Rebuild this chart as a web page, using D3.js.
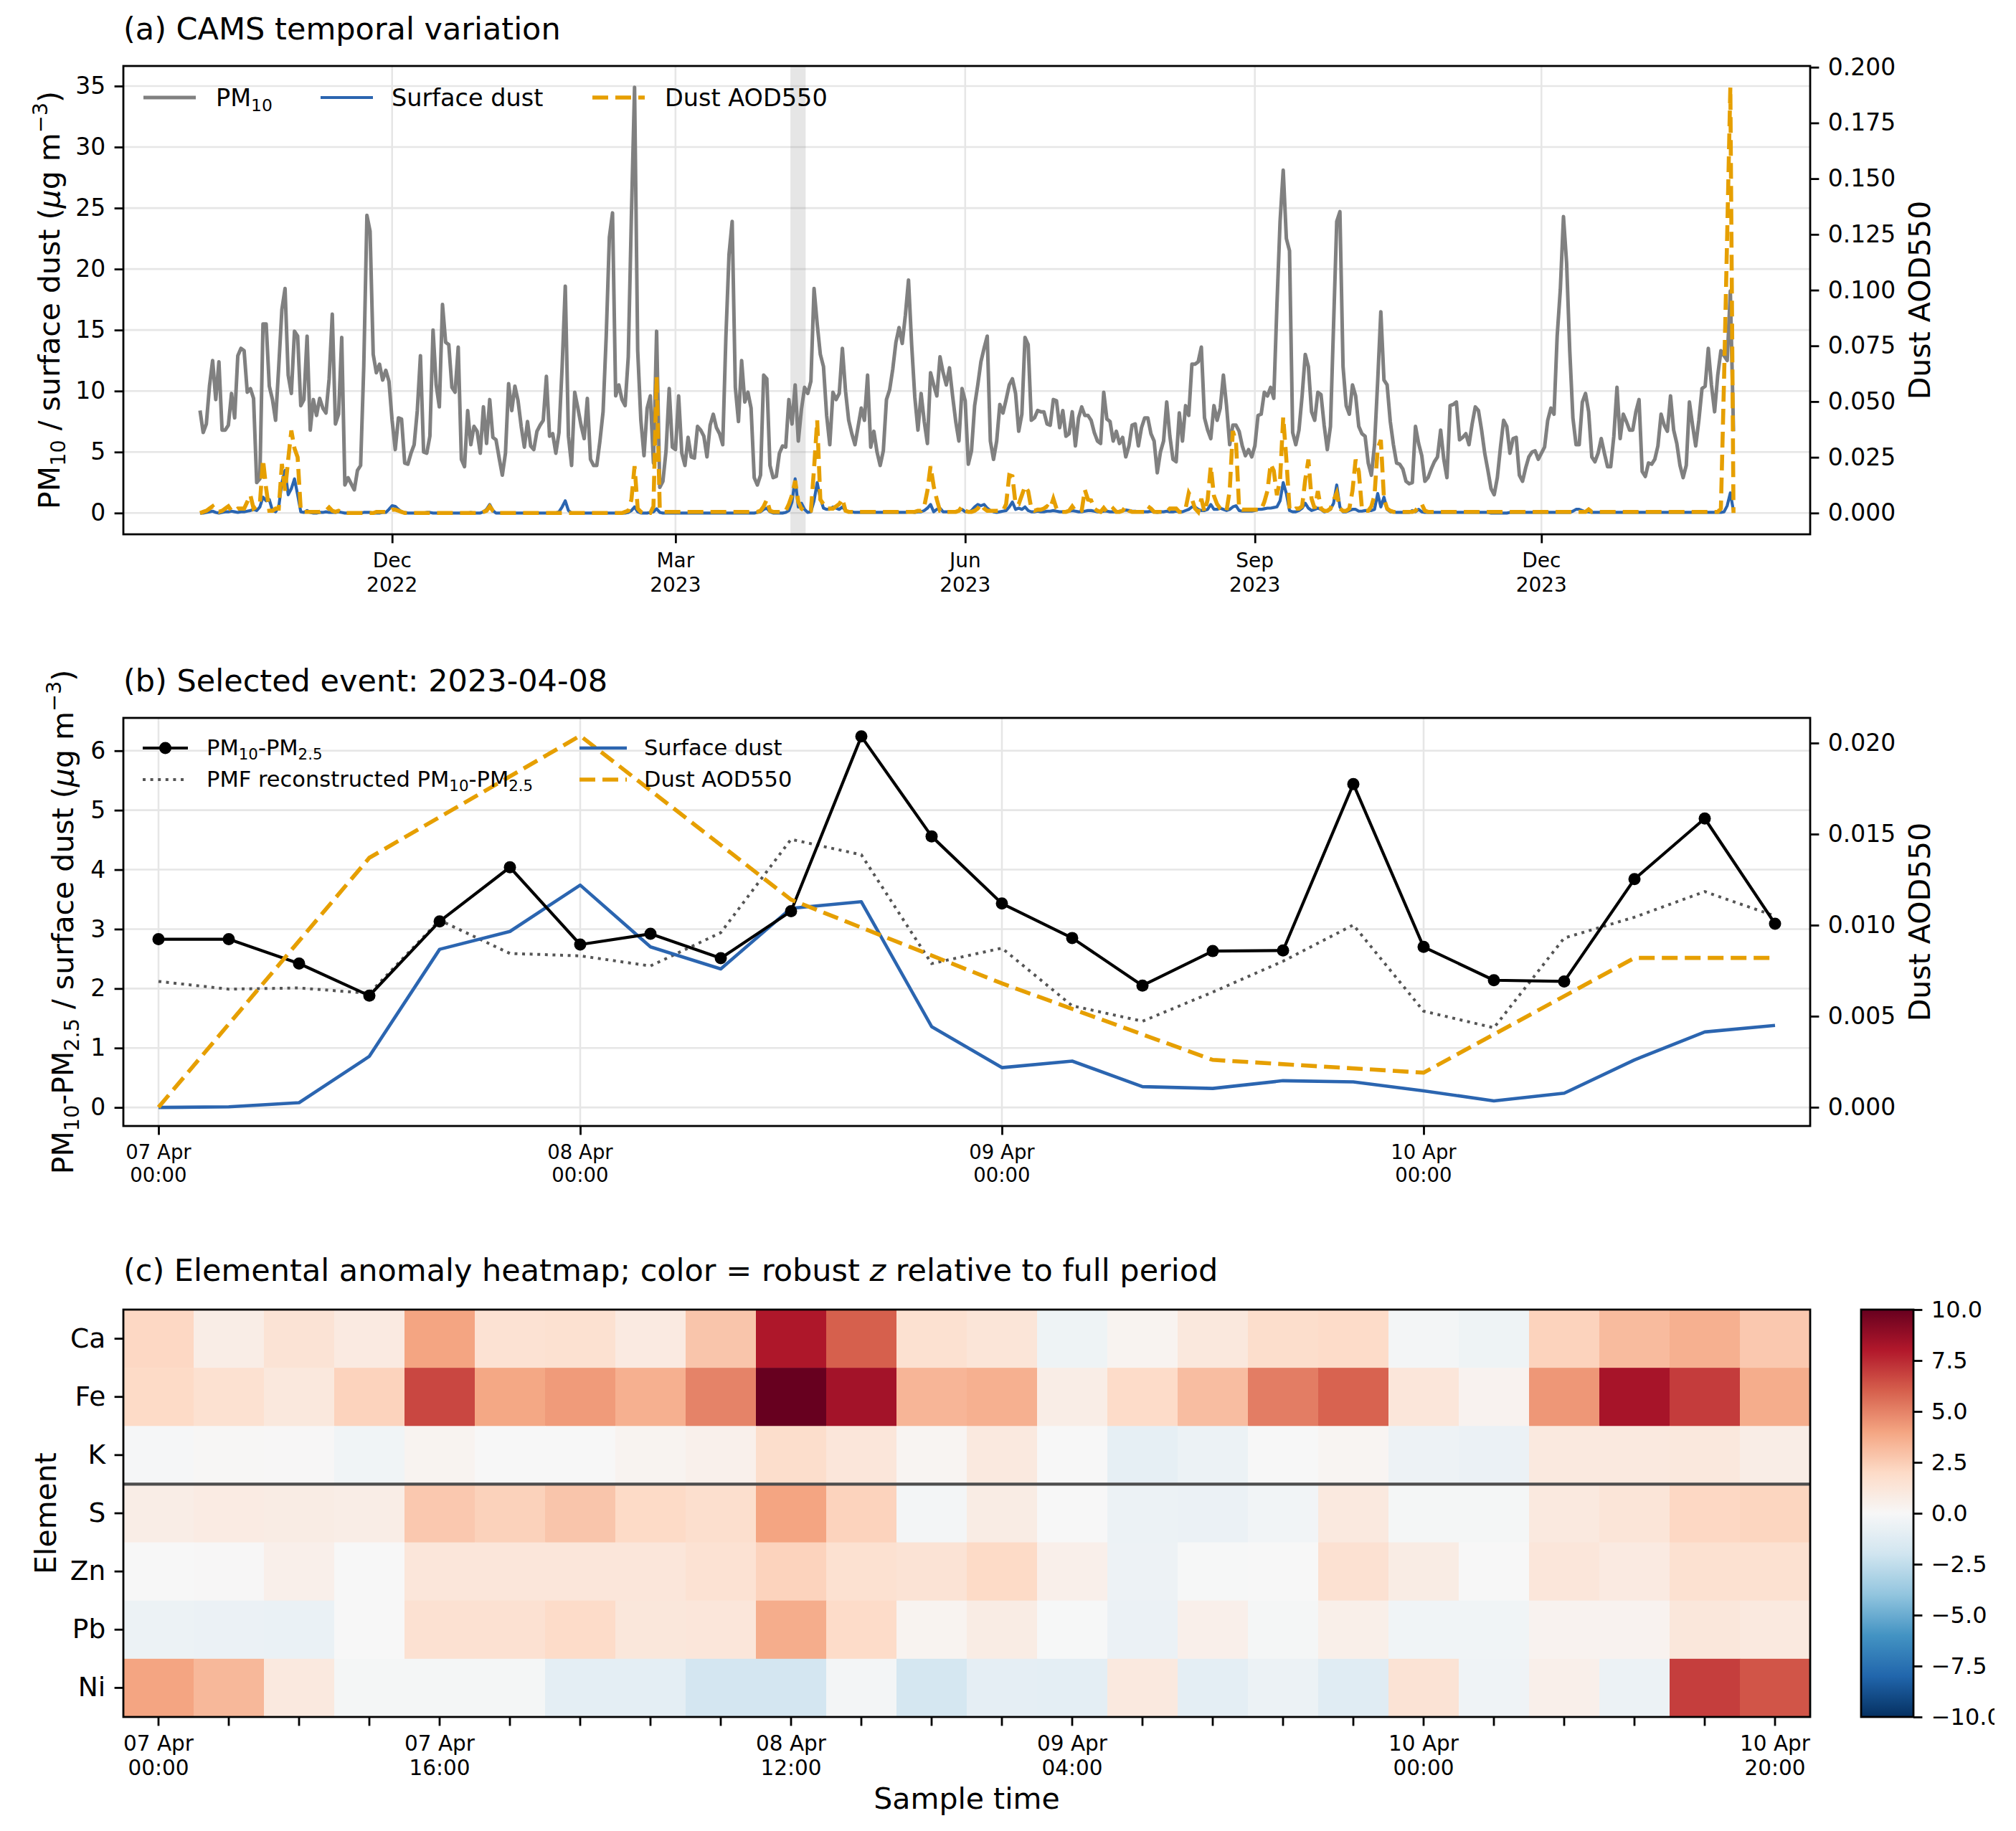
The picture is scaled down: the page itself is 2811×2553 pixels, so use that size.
<!DOCTYPE html>
<html><head><meta charset="utf-8">
<script src="https://cdn.jsdelivr.net/npm/d3@7"></script>
<style>
body{margin:0;background:#fff;}
svg{display:block;}
text{font-family:"DejaVu Sans",sans-serif;white-space:pre;}
</style>
</head><body>
<svg id="chart" width="2811" height="2553"></svg>
<script>
// ---------------- DATA ----------------
// (a) CAMS daily series, starting 2022-10-01
const camsStart = "2022-10-01";
const pm10 = [
8.4,6.6,7.3,10.4,12.5,9.3,12.4,6.8,6.8,7.2,
9.8,7.8,12.9,13.5,13.3,9.9,10.2,9.4,2.5,2.8,
15.5,15.5,10.4,9.3,7.6,12.0,16.7,18.4,11.3,9.8,
14.9,14.5,8.8,9.3,14.5,6.8,9.3,8.0,9.4,8.6,
8.2,11.0,16.3,7.3,8.1,14.4,2.3,2.9,2.4,1.9,
3.5,3.9,12.0,24.4,23.1,13.0,11.5,12.2,10.9,11.7,
10.8,7.6,5.2,7.8,7.7,4.1,4.0,4.9,5.6,8.4,
12.9,5.0,4.9,6.3,15.0,10.5,8.7,17.1,14.0,13.8,
10.3,9.9,13.6,4.4,3.8,8.4,5.6,7.1,6.7,4.9,
8.7,5.7,9.3,6.2,6.0,4.5,3.1,4.9,10.6,8.4,
10.4,9.2,7.1,5.4,7.5,5.5,5.2,6.7,7.2,7.6,
11.2,6.3,6.5,4.9,6.6,12.0,18.6,6.3,3.9,9.9,
8.6,7.2,6.1,9.4,4.4,3.9,3.9,5.9,8.3,14.5,
22.6,24.6,9.6,10.5,9.3,8.8,12.8,24.4,34.9,13.3,
7.6,4.7,8.6,9.6,4.1,14.9,2.1,2.6,5.1,10.2,
5.4,5.2,9.6,4.9,3.9,6.2,4.6,4.5,7.1,6.8,
6.3,4.6,7.2,8.1,7.0,6.5,5.6,14.4,21.2,23.9,
10.3,7.5,12.5,9.1,9.9,8.6,2.9,2.3,3.1,11.3,
11.0,3.9,2.9,3.0,4.9,5.5,5.4,9.3,7.3,10.5,
5.9,8.5,10.3,9.8,10.8,18.4,15.5,13.0,12.0,8.0,
5.6,9.9,9.3,9.8,13.5,10.0,7.6,6.5,5.6,7.1,
8.6,7.6,11.3,5.4,6.7,5.0,3.9,5.1,9.3,10.1,
11.8,14.0,15.2,13.9,16.2,19.1,13.8,9.5,6.8,9.8,
7.5,5.7,11.5,10.5,9.6,12.8,11.5,10.5,11.9,9.6,
7.5,5.9,10.2,9.2,4.0,5.1,8.8,10.5,12.4,13.5,
14.5,5.9,4.4,5.9,8.9,8.2,9.3,10.5,11.0,9.8,
6.7,8.1,14.4,13.8,7.6,7.8,8.4,8.3,8.3,7.3,
7.2,9.3,9.2,7.0,8.4,6.3,6.5,8.3,5.5,7.8,
8.7,8.0,8.0,7.6,6.6,5.9,5.7,9.9,7.7,7.5,
5.9,6.7,5.7,6.2,4.6,5.5,7.2,7.3,5.5,7.0,
7.8,7.8,6.5,5.9,3.3,5.0,5.9,9.1,6.3,4.4,
4.2,8.2,5.9,8.8,8.0,12.2,12.2,12.4,13.6,7.8,
6.8,6.1,8.8,7.6,8.6,11.3,8.8,5.6,7.2,7.2,
6.7,5.5,4.7,5.2,4.6,5.5,8.0,8.1,9.9,9.6,
10.3,9.4,17.0,23.9,28.1,22.5,21.5,6.6,5.6,6.8,
9.6,13.0,12.0,8.3,7.6,9.9,9.7,7.2,5.2,7.1,
15.5,23.9,24.7,12.0,8.8,8.1,10.5,9.6,7.1,6.5,
6.3,4.1,3.1,5.6,10.8,16.5,10.9,10.5,7.5,5.6,
4.1,4.0,3.6,2.6,2.4,2.5,7.1,5.7,4.7,2.6,
2.9,3.6,4.2,4.6,6.8,4.4,2.9,8.8,8.9,9.1,
6.0,6.2,6.5,5.6,7.3,8.7,8.4,6.8,4.9,3.5,
2.0,1.5,2.9,5.4,7.6,7.1,4.9,6.1,6.2,3.1,
2.6,3.7,4.6,5.0,5.1,4.4,4.9,5.4,7.6,8.6,
8.1,14.5,18.3,24.3,20.5,13.3,7.8,5.6,5.6,9.1,
9.8,8.3,4.6,4.2,4.9,6.1,4.9,3.8,3.8,6.3,
10.3,6.1,8.1,7.5,6.8,6.8,8.3,9.3,3.4,3.0,
4.1,4.0,4.4,5.5,8.1,7.2,6.7,9.6,6.8,5.7,
3.9,2.9,3.9,9.1,7.2,5.5,7.6,10.2,10.4,13.5,
10.5,8.3,11.3,13.3,12.9,12.5,18.2,6.7
];
const surfaceDust = [
0,0,0.05,0.1,0.15,0.05,0,0.05,0.1,0.1,
0.15,0.1,0.05,0.1,0.1,0.15,0.2,0.3,0.2,0.5,
1.3,1.0,1.1,0.2,0.1,0.5,2.5,3.5,1.5,2.0,
2.8,1.5,0.1,0.05,0.2,0.05,0,0,0.05,0.05,
0.1,0.05,0.05,0.05,0.1,0.05,0,0,0,0,
0,0,0.05,0.05,0.05,0,0,0,0.05,0.05,
0.3,0.6,0.55,0.3,0.1,0.05,0,0,0,0,
0,0,0.05,0.05,0,0,0,0,0,0,
0,0,0,0,0,0,0.05,0,0,0,
0.1,0.3,0.7,0.2,0,0,0,0,0,0,
0,0,0,0,0,0,0,0,0,0,
0,0,0,0,0.1,0.5,1.0,0.2,0,0,
0,0,0,0,0,0,0,0,0,0,
0,0,0,0,0,0,0.05,0.2,0.5,0.1,
0,0,0,0.05,0.1,0.35,0.05,0,0,0,
0,0,0,0,0,0,0,0,0,0,
0,0,0,0,0,0,0,0,0,0,
0,0,0,0,0,0,0,0.05,0.1,0.3,
0.4,0.1,0,0,0,0,0.05,0.2,0.9,2.8,
0.5,0.8,0.3,0.05,0.1,1.0,2.5,1.2,0.4,0.3,
0.3,0.5,0.4,0.3,0.5,0.2,0.1,0.1,0.05,0.05,
0.05,0.05,0.05,0.05,0.05,0.05,0.05,0.05,0.05,0.05,
0.05,0.05,0.05,0.05,0.05,0.1,0.1,0.05,0.1,0.1,
0.2,0.4,0.7,0.1,0.3,0.4,0.1,0.1,0.1,0.1,
0.1,0.2,0.3,0.1,0.1,0.2,0.5,0.7,0.6,0.7,
0.4,0.2,0.1,0.05,0.1,0.15,0.2,0.5,0.9,0.3,
0.4,0.3,0.5,0.2,0.1,0.1,0.15,0.1,0.1,0.15,
0.15,0.2,0.15,0.1,0.1,0.1,0.15,0.2,0.15,0.1,
0.1,0.15,0.2,0.2,0.15,0.1,0.1,0.15,0.15,0.1,
0.1,0.1,0.15,0.2,0.25,0.2,0.15,0.15,0.1,0.1,
0.1,0.1,0.15,0.1,0.05,0.1,0.1,0.15,0.1,0.1,
0.15,0.1,0.1,0.2,0.3,0.5,0.5,0.3,0.2,0.2,
0.3,0.7,0.3,0.3,0.4,0.3,0.2,0.3,0.5,0.6,
0.2,0.15,0.15,0.15,0.15,0.2,0.3,0.3,0.35,0.4,
0.4,0.45,0.5,1.0,2.5,1.6,0.2,0.1,0.1,0.2,
0.4,0.8,0.4,0.2,0.3,0.4,0.3,0.1,0.15,0.3,
0.8,2.3,0.5,0.1,0.1,0.2,0.3,0.3,0.15,0.15,
0.2,0.2,0.2,0.3,1.6,0.5,1.3,0.3,0.1,0.1,
0.05,0.05,0.05,0.05,0.05,0.2,0.1,0.3,0.1,0.05,
0.05,0.05,0.05,0.05,0.05,0.05,0.05,0.05,0.05,0.05,
0.05,0.05,0.05,0.05,0.05,0.05,0.05,0.05,0.05,0.05,
0,0,0,0,0,0,0.05,0.05,0.05,0.05,
0.05,0.05,0.05,0.05,0.05,0.05,0.05,0.05,0.05,0.05,
0.05,0.05,0.05,0.05,0.05,0.05,0.15,0.3,0.3,0.2,
0.1,0.1,0.05,0.05,0.05,0.05,0.05,0.05,0.05,0.05,
0.05,0.05,0.05,0.05,0.05,0.05,0.05,0.05,0.05,0.05,
0.05,0.05,0.05,0.05,0.05,0.05,0.05,0.05,0.05,0.05,
0.05,0.05,0.05,0.05,0.05,0.05,0.05,0.05,0.05,0.05,
0.05,0.05,0.05,0.05,0.1,0.6,1.65,0.15
];
const dustAOD = [
0,0.0005,0.001,0.002,0.003,0.001,0.0005,0.001,0.002,0.003,
0.001,0.001,0.002,0.002,0.002,0.005,0.008,0.002,0.003,0.004,
0.024,0.011,0.001,0.001,0.002,0.002,0.022,0.010,0.024,0.037,
0.029,0.025,0.001,0.0005,0.0005,0.0005,0.0005,0.0005,0.0005,0.001,
0.001,0.0025,0.001,0.0005,0.001,0.0005,0,0,0,0,
0,0,0,0,0,0,0.0005,0.0005,0.0005,0.0005,
0.0005,0.0015,0.0015,0.001,0.0005,0,0,0,0,0,
0,0,0,0,0,0,0,0,0,0,
0,0,0,0,0,0,0,0,0,0,
0.0005,0.001,0.003,0.001,0,0,0,0,0,0,
0,0,0,0,0,0,0,0,0,0,
0,0,0,0,0,0,0,0,0,0,
0,0,0,0,0,0,0,0,0,0,
0,0,0,0,0,0.0005,0.001,0.006,0.021,0.002,
0.0005,0,0,0,0.003,0.061,0.002,0.0005,0.0005,0.0005,
0.0005,0.0005,0.0005,0.0005,0.0005,0.0005,0.0005,0.0005,0.0005,0.0005,
0.0005,0.0005,0.0005,0.0005,0.0005,0.0005,0.0005,0.0005,0.0005,0.0005,
0.0005,0.0005,0.0005,0.0005,0.0005,0.0005,0.0005,0.0005,0.001,0.003,
0.006,0.001,0.0005,0.0005,0.0005,0.0005,0.001,0.004,0.008,0.0145,
0.005,0.002,0.001,0.0005,0.001,0.020,0.0416,0.006,0.004,0.002,
0.002,0.002,0.003,0.004,0.0064,0.001,0.0005,0.0005,0.0005,0.0005,
0.0005,0.0005,0.0005,0.0005,0.0005,0.0005,0.0005,0.0005,0.0005,0.0005,
0.0005,0.0005,0.0005,0.0005,0.0005,0.0005,0.0005,0.0005,0.001,0.001,
0.003,0.010,0.021,0.012,0.006,0.001,0.001,0.0005,0.0005,0.0005,
0.0005,0.001,0.003,0.001,0.0005,0.0005,0.001,0.002,0.004,0.002,
0.001,0.001,0.001,0.001,0.001,0.001,0.004,0.017,0.0165,0.004,
0.004,0.008,0.012,0.0098,0.002,0.001,0.0015,0.0015,0.002,0.003,
0.002,0.0064,0.002,0.0005,0.0005,0.0005,0.001,0.003,0.001,0.0005,
0.001,0.0104,0.006,0.0057,0.002,0.001,0.0005,0.0023,0.0005,0.0005,
0.002,0.0005,0.0005,0.001,0.003,0.001,0.0005,0.0005,0.0005,0.0005,
0.0005,0.003,0.002,0.0005,0.0005,0.0005,0.0005,0.0005,0.002,0.002,
0.002,0.0005,0.0005,0.002,0.009,0.0064,0.002,0.0005,0.0064,0.0005,
0.006,0.021,0.0077,0.004,0.002,0.001,0.001,0.010,0.0368,0.032,
0.002,0.0015,0.0015,0.0015,0.0015,0.0015,0.0015,0.0015,0.005,0.010,
0.022,0.019,0.008,0.015,0.043,0.024,0.002,0.001,0.002,0.002,
0.003,0.015,0.024,0.0064,0.002,0.0098,0.002,0.001,0.001,0.002,
0.0057,0.009,0.002,0.001,0.001,0.002,0.010,0.024,0.0186,0.002,
0.001,0.001,0.003,0.008,0.029,0.0328,0.0064,0.002,0.001,0.0005,
0.0005,0.0005,0.0005,0.0005,0.0005,0.0005,0.001,0.003,0.004,0.001,
0.0005,0.0005,0.0005,0.0005,0.0005,0.0005,0.0005,0.0005,0.0005,0.0005,
0.0005,0.0005,0.0005,0.0005,0.0005,0.0005,0.0005,0.0005,0.0005,0.0005,
0.0005,0.0005,0.0005,0.0005,0.0005,0.0005,0.0005,0.0005,0.0005,0.0005,
0.0005,0.0005,0.0005,0.0005,0.0005,0.0005,0.0005,0.0005,0.0005,0.0005,
0.0005,0.0005,0.0005,0.0005,0.0005,0.0005,0.0005,0.0005,0.0005,0.0005,
0.0005,0.0016,0.0005,0.0005,0.0005,0.0005,0.0005,0.0005,0.0005,0.0005,
0.0005,0.0005,0.0005,0.0005,0.0005,0.0005,0.0005,0.0005,0.0005,0.0005,
0.0005,0.0005,0.0005,0.0005,0.0005,0.0005,0.0005,0.0005,0.0005,0.0005,
0.0005,0.0005,0.0005,0.0005,0.0005,0.0005,0.0005,0.0005,0.0005,0.0005,
0.0005,0.0005,0.0005,0.002,0.06,0.125,0.191,0
];
const eventSpan = ["2023-04-06T12:00:00Z", "2023-04-11T08:00:00Z"];
const monthTicks = ["2022-12-01","2023-03-01","2023-06-01","2023-09-01","2023-12-01"];
const monthTickLabels = [["Dec","2022"],["Mar","2023"],["Jun","2023"],["Sep","2023"],["Dec","2023"]];
const ticksA = [0,5,10,15,20,25,30,35];
const ticksA2 = [0,0.025,0.05,0.075,0.1,0.125,0.15,0.175,0.2];

// (b) selected event, 4-hourly samples starting 2023-04-07 00:00
const eventStart = "2023-04-07T00:00:00Z";
const pmCoarse = [2.83,2.83,2.42,1.88,3.13,4.04,2.74,2.92,2.51,3.30,6.24,4.56,3.43,2.85,2.05,2.63,2.64,5.44,2.70,2.14,2.12,3.84,4.86,3.09];
const pmfCoarse = [2.12,1.99,2.01,1.92,3.15,2.59,2.55,2.38,2.94,4.51,4.25,2.42,2.68,1.71,1.45,1.94,2.46,3.07,1.62,1.34,2.85,3.20,3.63,3.22];
const eventDust = [0.0,0.01,0.08,0.86,2.66,2.96,3.74,2.70,2.33,3.35,3.46,1.36,0.67,0.78,0.35,0.32,0.45,0.43,0.28,0.11,0.24,0.80,1.27,1.38];
const aodTimes = ["2023-04-07T00:00:00Z","2023-04-07T12:00:00Z","2023-04-08T00:00:00Z","2023-04-08T12:00:00Z","2023-04-09T00:00:00Z","2023-04-09T12:00:00Z","2023-04-10T00:00:00Z","2023-04-10T12:00:00Z","2023-04-10T20:00:00Z"];
const aodEvent = [0.0,0.0137,0.0204,0.0114,0.0068,0.0026,0.0019,0.0082,0.0082];
const ticksB = [0,1,2,3,4,5,6];
const ticksB2 = [0,0.005,0.01,0.015,0.02];
const dayTicksB = ["2023-04-07T00:00:00Z","2023-04-08T00:00:00Z","2023-04-09T00:00:00Z","2023-04-10T00:00:00Z"];

// (c) robust z heatmap
const elements = ["Ca","Fe","K","S","Zn","Pb","Ni"];
const zCa = [2.1,0.7,1.4,0.9,4.0,1.5,1.6,0.9,2.8,8.1,6.0,1.6,1.3,-0.5,0.3,1.1,1.8,1.9,-0.2,-0.45,2.3,3.2,3.6,2.7];
const zFe = [2.0,1.6,1.1,2.3,6.7,3.9,4.3,3.6,5.0,10.0,8.4,3.4,3.6,0.7,1.9,3.1,5.15,5.9,1.2,0.35,4.4,8.3,7.0,3.7];
const zK  = [-0.1,0.1,0.05,-0.35,0.3,0.0,0.0,0.3,0.5,1.8,1.2,0.2,1.0,0.0,-0.9,-0.6,0.0,0.2,-0.55,-0.65,1.0,1.0,1.1,0.7];
const zS  = [0.7,0.85,0.8,0.7,2.7,2.35,2.8,2.0,1.7,4.0,2.3,-0.2,0.8,0.0,-0.6,-0.65,-0.3,1.0,-0.15,-0.15,1.0,1.3,2.1,2.2];
const zZn = [0.0,0.05,0.55,0.0,1.2,1.2,1.2,1.2,1.5,2.3,1.6,1.4,2.0,0.55,-0.55,-0.05,0.0,1.55,0.8,0.0,1.2,0.9,1.6,1.6];
const zPb = [-0.6,-0.65,-0.7,0.0,1.55,1.55,1.9,1.15,1.2,3.7,1.9,0.3,0.8,-0.05,-0.65,0.55,-0.15,0.6,-0.35,-0.35,0.35,0.35,1.15,1.0];
const zNi = [4.0,3.3,1.0,-0.15,-0.15,-0.15,-1.0,-1.0,-1.85,-1.85,-0.2,-1.8,-0.95,-1.0,1.0,-1.0,-0.6,-1.2,1.4,-0.4,0.55,-0.6,6.95,6.3];
const heatLabelCols = [0,4,9,13,18,23];
const cbarTicks = [10,7.5,5,2.5,0,-2.5,-5,-7.5,-10];
const rdbuStops = ["#67001f","#b2182b","#d6604d","#f4a582","#fddbc7","#f7f7f7","#d1e5f0","#92c5de","#4393c3","#2166ac","#053061"];

// ---------------- STYLE / LAYOUT ----------------
const FONT = '"DejaVu Sans", sans-serif';
const C_GRAY = "#808080", C_BLUE = "#2b65b0", C_ORANGE = "#e69f00";
const SPINE = 2.8, TICK = 12.4, PAD = 12.4, GRID = "#e6e6e6", GRIDW = 2.6;
const FS_TITLE = 43, FS_LABEL = 41, FS_TICK = 33, FS_DATE_A = 28, FS_DATE_B = 27.5, FS_DATE_C = 29.5;
const A = {l:172, r:2524, t:92, b:745};
const B = {l:172, r:2524, t:1001, b:1570};
const Cc = {l:172, r:2524, t:1826, b:2394};
const CB = {l:2595, r:2668, t:1826, b:2394};

const svg = d3.select("#chart");
svg.append("rect").attr("width",2811).attr("height",2553).attr("fill","#fff");
const defs = svg.append("defs");
defs.append("clipPath").attr("id", "figclip").append("rect")
  .attr("x", 0).attr("y", 0).attr("width", 2781).attr("height", 2553);

function rich(parent, x, y, parts, size, opts = {}) {
  const t = parent.append("text").attr("x", x).attr("y", y)
    .attr("font-size", size).attr("font-family", FONT).attr("fill", "#000");
  if (opts.anchor) t.attr("text-anchor", opts.anchor);
  if (opts.transform) t.attr("transform", opts.transform);
  let shift = 0;
  parts.forEach(p => {
    const [str, kind] = (typeof p === "string") ? [p, "n"] : p;
    const ts = t.append("tspan").text(str);
    let target = 0, fs = size;
    if (kind === "sub") { target = 0.2 * size; fs = 0.7 * size; }
    if (kind === "sup") { target = -0.42 * size; fs = 0.7 * size; }
    if (kind === "it") ts.attr("font-style", "italic");
    ts.attr("font-size", fs);
    const dy = target - shift;
    if (Math.abs(dy) > 1e-6) ts.attr("dy", dy);
    shift = target;
  });
  return t;
}
function spines(P) {
  svg.append("rect").attr("x", P.l).attr("y", P.t).attr("width", P.r - P.l).attr("height", P.b - P.t)
    .attr("fill", "none").attr("stroke", "#000").attr("stroke-width", SPINE);
}
function styleAxis(g, fs) {
  g.select(".domain").remove();
  g.attr("font-family", FONT).attr("font-size", fs);
  g.selectAll(".tick line").attr("stroke", "#000").attr("stroke-width", SPINE);
  g.selectAll(".tick text").attr("fill", "#000");
}
function dateTickLabels(xs, lines, yTop, fs, lineGap) {
  xs.forEach((x, i) => {
    lines[i].forEach((s, j) => {
      svg.append("text").attr("x", x).attr("y", yTop + 0.76 * fs + j * lineGap)
        .attr("text-anchor", "middle").attr("font-size", fs).attr("font-family", FONT).text(s);
    });
  });
}

// ---------------- PANEL A ----------------
const day0 = new Date(camsStart + "T00:00:00Z");
const datesA = pm10.map((_, i) => d3.utcDay.offset(day0, i));
const nA = pm10.length - 1;
const xA = d3.scaleUtc()
  .domain([new Date(+day0 - 0.05 * nA * 864e5), new Date(+day0 + 1.05 * nA * 864e5)])
  .range([A.l, A.r]);
const yA = d3.scaleLinear().domain([-1.745, 36.645]).range([A.b, A.t]);
const yA2 = d3.scaleLinear().domain([-0.00955, 0.20055]).range([A.b, A.t]);
const monthDates = monthTicks.map(s => new Date(s + "T00:00:00Z"));

const gA = svg.append("g");
gA.selectAll(".gy").data(ticksA).enter().append("line")
  .attr("x1", A.l).attr("x2", A.r).attr("y1", d => yA(d)).attr("y2", d => yA(d))
  .attr("stroke", GRID).attr("stroke-width", GRIDW);
gA.selectAll(".gx").data(monthDates).enter().append("line")
  .attr("x1", d => xA(d)).attr("x2", d => xA(d)).attr("y1", A.t).attr("y2", A.b)
  .attr("stroke", GRID).attr("stroke-width", GRIDW);
const span = eventSpan.map(s => new Date(s));
gA.append("rect").attr("x", xA(span[0])).attr("width", xA(span[1]) - xA(span[0]))
  .attr("y", A.t).attr("height", A.b - A.t).attr("fill", "#808080").attr("fill-opacity", 0.2);
const lineA = d3.line().x((d, i) => xA(datesA[i])).y(d => yA(d));
const lineA2 = d3.line().x((d, i) => xA(datesA[i])).y(d => yA2(d));
gA.append("path").datum(pm10).attr("d", lineA).attr("fill", "none").attr("stroke", C_GRAY)
  .attr("stroke-width", 5).attr("stroke-linejoin", "round");
gA.append("path").datum(surfaceDust).attr("d", lineA).attr("fill", "none").attr("stroke", C_BLUE)
  .attr("stroke-width", 4.2).attr("stroke-linejoin", "round");
gA.append("path").datum(dustAOD).attr("d", lineA2).attr("fill", "none").attr("stroke", C_ORANGE)
  .attr("stroke-width", 5.6).attr("stroke-dasharray", "22,10");
spines(A);
const axL = svg.append("g").attr("transform", `translate(${A.l},0)`)
  .call(d3.axisLeft(yA).tickValues(ticksA).tickSize(TICK).tickPadding(PAD).tickFormat(d3.format("d")));
styleAxis(axL, FS_TICK);
const axR = svg.append("g").attr("transform", `translate(${A.r},0)`)
  .call(d3.axisRight(yA2).tickValues(ticksA2).tickSize(TICK).tickPadding(PAD).tickFormat(d3.format(".3f")));
styleAxis(axR, FS_TICK);
const axB = svg.append("g").attr("transform", `translate(0,${A.b})`)
  .call(d3.axisBottom(xA).tickValues(monthDates).tickSize(TICK).tickFormat(""));
styleAxis(axB, FS_DATE_A);
dateTickLabels(monthDates.map(d => xA(d)), monthTickLabels, A.b + TICK + PAD, FS_DATE_A, 33.6);
rich(svg, A.l, A.t - 37, ["(a) CAMS temporal variation"], FS_TITLE);
rich(svg, 0, 0, ["PM", ["10", "sub"], " / surface dust (", ["μ", "it"], "g m", ["−3", "sup"], ")"], FS_LABEL,
  {anchor: "middle", transform: `translate(83,${(A.t + A.b) / 2}) rotate(-90)`});
rich(svg, 0, 0, ["Dust AOD550"], FS_LABEL,
  {anchor: "middle", transform: `translate(2691,${(A.t + A.b) / 2}) rotate(-90)`});
const legA = [
  {x: 200, col: C_GRAY, w: 5, dash: null, parts: ["PM", ["10", "sub"]], tx: 301},
  {x: 447, col: C_BLUE, w: 4.2, dash: null, parts: ["Surface dust"], tx: 546},
  {x: 826, col: C_ORANGE, w: 5.6, dash: "22,10", parts: ["Dust AOD550"], tx: 927}
];
legA.forEach(e => {
  const ln = svg.append("line").attr("x1", e.x).attr("x2", e.x + 73).attr("y1", 136).attr("y2", 136)
    .attr("stroke", e.col).attr("stroke-width", e.w);
  if (e.dash) ln.attr("stroke-dasharray", e.dash);
  rich(svg, e.tx, 148, e.parts, 33.5);
});

// ---------------- PANEL B ----------------
const t0 = new Date(eventStart);
const timesB = pmCoarse.map((_, i) => d3.utcHour.offset(t0, 4 * i));
const xB = d3.scaleUtc()
  .domain([d3.utcHour.offset(timesB[0], -2), d3.utcHour.offset(timesB[timesB.length - 1], 2)])
  .range([B.l, B.r]);
const yB = d3.scaleLinear().domain([-0.312, 6.552]).range([B.b, B.t]);
const yB2 = d3.scaleLinear().domain([-0.00103, 0.02138]).range([B.b, B.t]);
const dayDatesB = dayTicksB.map(s => new Date(s));
const gB = svg.append("g");
gB.selectAll(".gy").data(ticksB).enter().append("line")
  .attr("x1", B.l).attr("x2", B.r).attr("y1", d => yB(d)).attr("y2", d => yB(d))
  .attr("stroke", GRID).attr("stroke-width", GRIDW);
gB.selectAll(".gx").data(dayDatesB).enter().append("line")
  .attr("x1", d => xB(d)).attr("x2", d => xB(d)).attr("y1", B.t).attr("y2", B.b)
  .attr("stroke", GRID).attr("stroke-width", GRIDW);
const lineB = d3.line().x((d, i) => xB(timesB[i])).y(d => yB(d));
gB.append("path").datum(pmfCoarse).attr("d", lineB).attr("fill", "none").attr("stroke", "#555555")
  .attr("stroke-width", 4).attr("stroke-dasharray", "4,6.6");
gB.append("path").datum(eventDust).attr("d", lineB).attr("fill", "none").attr("stroke", C_BLUE)
  .attr("stroke-width", 4.6).attr("stroke-linejoin", "round");
gB.append("path").datum(pmCoarse).attr("d", lineB).attr("fill", "none").attr("stroke", "#000")
  .attr("stroke-width", 4.2).attr("stroke-linejoin", "round");
gB.selectAll(".dot").data(pmCoarse).enter().append("circle")
  .attr("cx", (d, i) => xB(timesB[i])).attr("cy", d => yB(d)).attr("r", 8.5).attr("fill", "#000");
const aodT = aodTimes.map(s => new Date(s));
gB.append("path").datum(aodEvent)
  .attr("d", d3.line().x((d, i) => xB(aodT[i])).y(d => yB2(d)))
  .attr("fill", "none").attr("stroke", C_ORANGE).attr("stroke-width", 5.6).attr("stroke-dasharray", "22,10");
spines(B);
const bL = svg.append("g").attr("transform", `translate(${B.l},0)`)
  .call(d3.axisLeft(yB).tickValues(ticksB).tickSize(TICK).tickPadding(PAD).tickFormat(d3.format("d")));
styleAxis(bL, FS_TICK);
const bR = svg.append("g").attr("transform", `translate(${B.r},0)`)
  .call(d3.axisRight(yB2).tickValues(ticksB2).tickSize(TICK).tickPadding(PAD).tickFormat(d3.format(".3f")));
styleAxis(bR, FS_TICK);
const bB = svg.append("g").attr("transform", `translate(0,${B.b})`)
  .call(d3.axisBottom(xB).tickValues(dayDatesB).tickSize(TICK).tickFormat(""));
styleAxis(bB, FS_DATE_B);
const fmtDay = d3.utcFormat("%d %b"), fmtHM = d3.utcFormat("%H:%M");
dateTickLabels(dayDatesB.map(d => xB(d)), dayDatesB.map(d => [fmtDay(d), fmtHM(d)]), B.b + TICK + PAD, FS_DATE_B, 32);
rich(svg, B.l, B.t - 37, ["(b) Selected event: 2023-04-08"], FS_TITLE);
rich(svg, 0, 0, ["PM", ["10", "sub"], "-PM", ["2.5", "sub"], " / surface dust (", ["μ", "it"], "g m", ["−3", "sup"], ")"], FS_LABEL,
  {anchor: "middle", transform: `translate(102,${(B.t + B.b) / 2}) rotate(-90)`});
rich(svg, 0, 0, ["Dust AOD550"], FS_LABEL,
  {anchor: "middle", transform: `translate(2691,${(B.t + B.b) / 2}) rotate(-90)`});
const lgB = svg.append("g");
const FS_LEGB = 30.5;
lgB.append("line").attr("x1", 199).attr("x2", 262).attr("y1", 1043).attr("y2", 1043).attr("stroke", "#000").attr("stroke-width", 4.2);
lgB.append("circle").attr("cx", 230.5).attr("cy", 1043).attr("r", 8.5).attr("fill", "#000");
rich(lgB, 288, 1053, ["PM", ["10", "sub"], "-PM", ["2.5", "sub"]], FS_LEGB);
lgB.append("line").attr("x1", 199).attr("x2", 262).attr("y1", 1087).attr("y2", 1087).attr("stroke", "#555555")
  .attr("stroke-width", 4).attr("stroke-dasharray", "4,6.6");
rich(lgB, 288, 1097, ["PMF reconstructed PM", ["10", "sub"], "-PM", ["2.5", "sub"]], FS_LEGB);
lgB.append("line").attr("x1", 808).attr("x2", 874).attr("y1", 1043).attr("y2", 1043).attr("stroke", C_BLUE).attr("stroke-width", 4.6);
rich(lgB, 898, 1053, ["Surface dust"], FS_LEGB);
lgB.append("line").attr("x1", 808).attr("x2", 874).attr("y1", 1087).attr("y2", 1087).attr("stroke", C_ORANGE)
  .attr("stroke-width", 5.6).attr("stroke-dasharray", "22,10");
rich(lgB, 898, 1097, ["Dust AOD550"], FS_LEGB);

// ---------------- PANEL C ----------------
const zRows = [zCa, zFe, zK, zS, zZn, zPb, zNi];
const color = d3.scaleLinear().domain(d3.range(10, -10.001, -2)).range(rdbuStops).interpolate(d3.interpolateRgb).clamp(true);
const xC = d3.scaleBand().domain(d3.range(zCa.length)).range([Cc.l, Cc.r]);
const yC = d3.scaleBand().domain(elements).range([Cc.t, Cc.b]);
const cells = [];
zRows.forEach((row, r) => row.forEach((z, c) => cells.push({el: elements[r], c, z})));
svg.append("g").selectAll("rect").data(cells).enter().append("rect")
  .attr("x", d => xC(d.c)).attr("y", d => yC(d.el))
  .attr("width", xC.bandwidth() + 0.6).attr("height", yC.bandwidth() + 0.6)
  .attr("fill", d => color(d.z));
svg.append("line").attr("x1", Cc.l).attr("x2", Cc.r).attr("y1", yC("S")).attr("y2", yC("S"))
  .attr("stroke", "#4d4d4d").attr("stroke-width", 4.2);
spines(Cc);
const cL = svg.append("g").attr("transform", `translate(${Cc.l},0)`)
  .call(d3.axisLeft(yC).tickSize(TICK).tickPadding(PAD));
styleAxis(cL, 37.5);
const cB = svg.append("g").attr("transform", `translate(0,${Cc.b})`)
  .call(d3.axisBottom(xC).tickSize(TICK).tickFormat(""));
styleAxis(cB, FS_DATE_C);
const timesC = zCa.map((_, i) => d3.utcHour.offset(t0, 4 * i));
dateTickLabels(heatLabelCols.map(c => xC(c) + xC.bandwidth() / 2),
  heatLabelCols.map(c => [fmtDay(timesC[c]), fmtHM(timesC[c])]), Cc.b + TICK + PAD, FS_DATE_C, 34);
rich(svg, Cc.l, Cc.t - 40, ["(c) Elemental anomaly heatmap; color = robust ", ["z", "it"], " relative to full period"], FS_TITLE);
rich(svg, 0, 0, ["Element"], FS_LABEL, {anchor: "middle", transform: `translate(78,${(Cc.t + Cc.b) / 2}) rotate(-90)`});
rich(svg, (Cc.l + Cc.r) / 2, 2522, ["Sample time"], FS_LABEL, {anchor: "middle"});

// colorbar
const grad = defs.append("linearGradient").attr("id", "cbgrad").attr("x1", 0).attr("y1", 1).attr("x2", 0).attr("y2", 0);
d3.range(0, 1.0001, 0.02).forEach(t => grad.append("stop").attr("offset", t).attr("stop-color", color(-10 + 20 * t)));
svg.append("rect").attr("x", CB.l).attr("y", CB.t).attr("width", CB.r - CB.l).attr("height", CB.b - CB.t)
  .attr("fill", "url(#cbgrad)").attr("stroke", "#000").attr("stroke-width", SPINE);
const yCB = d3.scaleLinear().domain([-10, 10]).range([CB.b, CB.t]);
const cbAx = svg.append("g").attr("clip-path", "url(#figclip)").append("g").attr("transform", `translate(${CB.r},0)`)
  .call(d3.axisRight(yCB).tickValues(cbarTicks).tickSize(TICK).tickPadding(PAD)
    .tickFormat(d => (d < 0 ? "−" : "") + Math.abs(d).toFixed(1)));
styleAxis(cbAx, 32);

if (surfaceDust.length !== pm10.length || dustAOD.length !== pm10.length) {
  svg.append("text").attr("x", 400).attr("y", 400).attr("font-size", 60).attr("fill", "red")
    .text(`len ${pm10.length} ${surfaceDust.length} ${dustAOD.length}`);
}
</script>
</body></html>
